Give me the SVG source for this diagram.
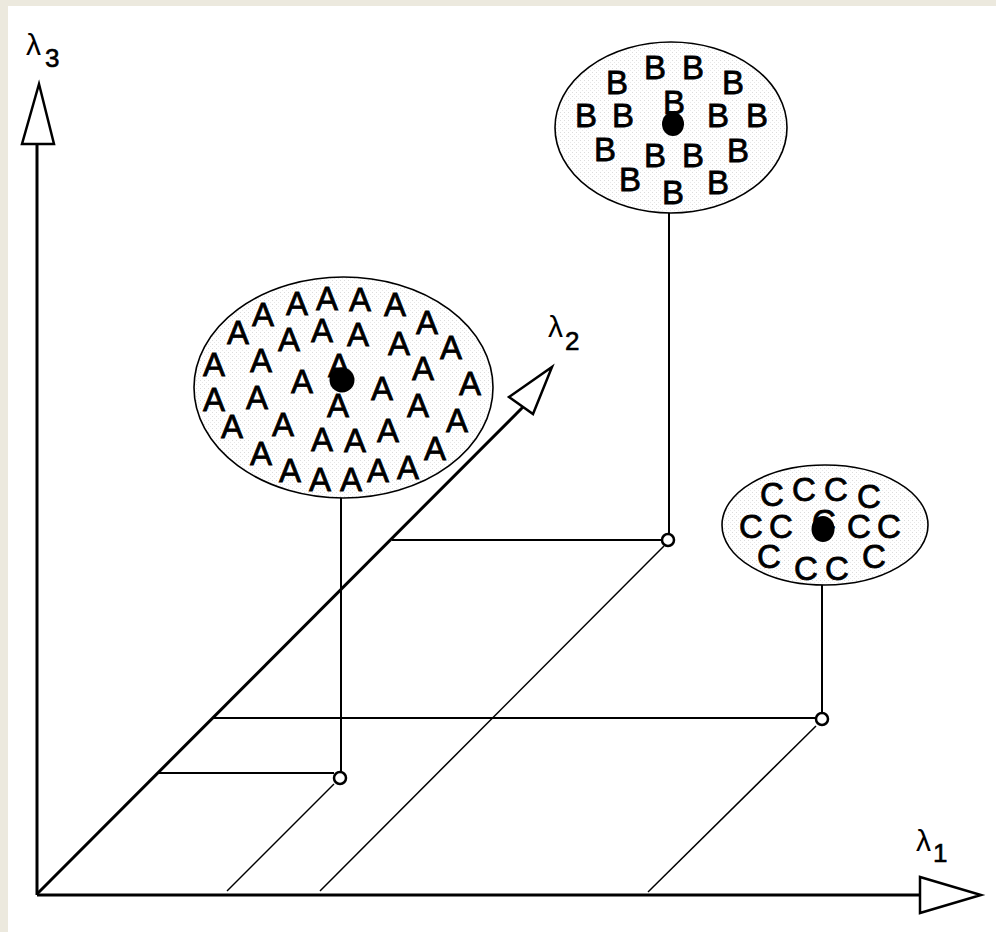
<svg xmlns="http://www.w3.org/2000/svg" width="996" height="932" viewBox="0 0 996 932">
<defs>
<pattern id="stip" width="4" height="4" patternUnits="userSpaceOnUse">
<rect width="4" height="4" fill="#ffffff"/>
<rect x="0" y="0" width="1" height="1" fill="#dcdcdc"/>
<rect x="2" y="2" width="1" height="1" fill="#e8e8e8"/>
</pattern>
<style>
.ax{stroke:#000;stroke-width:3;fill:none}
.arrow{fill:#fff;stroke:#000;stroke-width:2.5;stroke-linejoin:miter}
.thin{stroke:#000;stroke-width:1.5;fill:none}
.drop{stroke:#000;stroke-width:2;fill:none}
.pt{fill:#fff;stroke:#000;stroke-width:2.5}
.cl{stroke:#000;stroke-width:1.6;fill:url(#stip)}
.dot{fill:#000}
.lt{font-family:"Liberation Sans",Arial,sans-serif;font-size:33px;text-anchor:middle;fill:#000;stroke:#000;stroke-width:0.8}
.lab{font-family:"Liberation Sans",Arial,sans-serif;fill:#000}
.big{font-size:30px}
.sub{font-size:26px;stroke:#000;stroke-width:0.6}
</style>
</defs>
<rect x="0" y="0" width="996" height="932" fill="#ece9de"/>
<rect x="8" y="6" width="988" height="926" fill="#ffffff"/>

<g id="connectors">
<line class="ax" x1="37" y1="895" x2="37" y2="144"/>
<line class="ax" x1="37" y1="895" x2="920" y2="895"/>
<line class="ax" x1="37" y1="894" x2="524" y2="406"/>
<polygon class="arrow" points="22,144 54,144 39,84"/>
<polygon class="arrow" points="920,877 920,913 981,895"/>
<polygon class="arrow" points="509,397 533,414 552,367"/>
<line class="drop" x1="341" y1="498" x2="341" y2="772"/>
<line class="drop" x1="159" y1="773" x2="334" y2="773"/>
<line class="thin" x1="334" y1="784" x2="227" y2="891"/>
<line class="drop" x1="669" y1="213" x2="669" y2="534"/>
<line class="drop" x1="392" y1="540" x2="662" y2="540"/>
<line class="thin" x1="664" y1="546" x2="320" y2="891"/>
<line class="drop" x1="822" y1="585" x2="822" y2="713"/>
<line class="drop" x1="213" y1="718" x2="816" y2="718"/>
<line class="thin" x1="816" y1="726" x2="648" y2="892"/>
</g>

<g id="axis-labels">
<text class="lab big" x="26" y="55">λ</text><text class="lab sub" x="45" y="67">3</text>
<text class="lab big" x="548" y="337">λ</text><text class="lab sub" x="565" y="350">2</text>
<text class="lab big" x="916" y="851">λ</text><text class="lab sub" x="933" y="862">1</text>
</g>

<g id="cluster-A">
<ellipse class="cl" cx="343.5" cy="387.5" rx="149.5" ry="110.5"/>
<text class="lt" x="263" y="326">A</text><text class="lt" x="297" y="315">A</text><text class="lt" x="327" y="310">A</text><text class="lt" x="360" y="311">A</text><text class="lt" x="395" y="316">A</text><text class="lt" x="427" y="334">A</text>
<text class="lt" x="238" y="344">A</text><text class="lt" x="289" y="351">A</text><text class="lt" x="322" y="342">A</text><text class="lt" x="358" y="346">A</text><text class="lt" x="399" y="355">A</text><text class="lt" x="451" y="359">A</text>
<text class="lt" x="214" y="376">A</text><text class="lt" x="261" y="372">A</text><text class="lt" x="302" y="393">A</text><text class="lt" x="339" y="377">A</text><text class="lt" x="423" y="380">A</text><text class="lt" x="470" y="395">A</text>
<text class="lt" x="214" y="411">A</text><text class="lt" x="257" y="409">A</text><text class="lt" x="338" y="417">A</text><text class="lt" x="382" y="400">A</text><text class="lt" x="418" y="417">A</text><text class="lt" x="457" y="432">A</text>
<text class="lt" x="232" y="438">A</text><text class="lt" x="283" y="436">A</text><text class="lt" x="322" y="451">A</text><text class="lt" x="355" y="452">A</text><text class="lt" x="388" y="442">A</text><text class="lt" x="435" y="460">A</text>
<text class="lt" x="261" y="465">A</text><text class="lt" x="290" y="482">A</text><text class="lt" x="320" y="491">A</text><text class="lt" x="351" y="491">A</text><text class="lt" x="378" y="482">A</text><text class="lt" x="408" y="479">A</text>
<circle class="dot" cx="342" cy="380" r="12.5"/>
<circle class="pt" cx="340" cy="778" r="6"/>
</g>

<g id="cluster-B">
<ellipse class="cl" cx="671" cy="127.5" rx="116" ry="85.5"/>
<text class="lt" x="655" y="79">B</text><text class="lt" x="693" y="79">B</text><text class="lt" x="617" y="94">B</text><text class="lt" x="733" y="94">B</text>
<text class="lt" x="674" y="114">B</text><text class="lt" x="586" y="127">B</text><text class="lt" x="623" y="127">B</text><text class="lt" x="718" y="127">B</text><text class="lt" x="757" y="127">B</text>
<text class="lt" x="605" y="161">B</text><text class="lt" x="655" y="167">B</text><text class="lt" x="693" y="167">B</text><text class="lt" x="738" y="162">B</text>
<text class="lt" x="630" y="191">B</text><text class="lt" x="673" y="204">B</text><text class="lt" x="718" y="194">B</text>
<ellipse class="dot" cx="673" cy="124" rx="11" ry="12"/>
<circle class="pt" cx="668" cy="540" r="6"/>
</g>

<g id="cluster-C">
<ellipse class="cl" cx="825" cy="525" rx="103" ry="60"/>
<text class="lt" x="772" y="506">C</text><text class="lt" x="804" y="501">C</text><text class="lt" x="836" y="501">C</text><text class="lt" x="869" y="508">C</text>
<text class="lt" x="751" y="538">C</text><text class="lt" x="781" y="538">C</text><text class="lt" x="824" y="533">C</text><text class="lt" x="859" y="538">C</text><text class="lt" x="889" y="538">C</text>
<text class="lt" x="769" y="568">C</text><text class="lt" x="806" y="580">C</text><text class="lt" x="837" y="580">C</text><text class="lt" x="874" y="568">C</text>
<ellipse class="dot" cx="823" cy="529" rx="11.5" ry="13"/>
<circle class="pt" cx="822" cy="719" r="6"/>
</g>
</svg>
